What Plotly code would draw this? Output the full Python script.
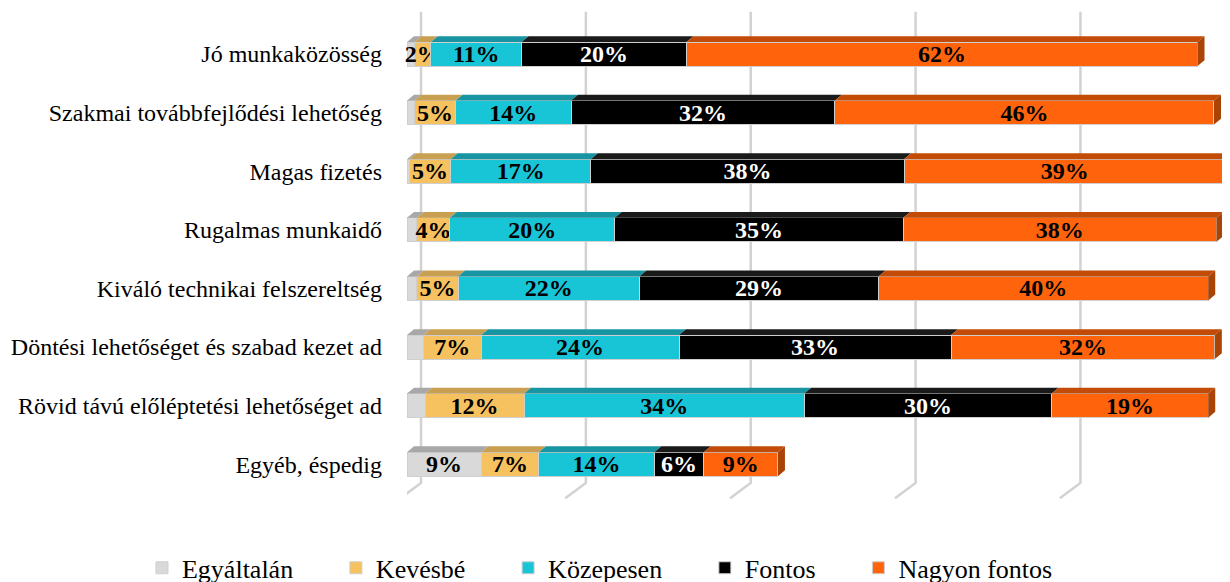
import numpy as np
import plotly.graph_objects as go

categories = [
    "Jó munkaközösség",
    "Szakmai továbbfejlődési lehetőség",
    "Magas fizetés",
    "Rugalmas munkaidő",
    "Kiváló technikai felszereltség",
    "Döntési lehetőséget és szabad kezet ad",
    "Rövid távú előléptetési lehetőséget ad",
    "Egyéb, éspedig",
]
series_names = ["Egyáltalán", "Kevésbé", "Közepesen", "Fontos", "Nagyon fontos"]
egyaltalan = [0.9, 0.9, 0.3, 1.2, 1.2, 2.0, 2.2, 9]
kevesbe = [2, 5, 5, 4, 5, 7, 12, 7]
kozepesen = [11, 14, 17, 20, 22, 24, 34, 14]
fontos = [20, 32, 38, 35, 29, 33, 30, 6]
nagyon_fontos = [62, 46, 39, 38, 40, 32, 19, 9]
tick_values = [0, 20, 40, 60, 80, 100]

series_values = [egyaltalan, kevesbe, kozepesen, fontos, nagyon_fontos]
front_colors = ["#D9D9D9", "#F6C25F", "#17C5D7", "#000000", "#FF640D"]
top_colors = ["#A8A8A8", "#C9A052", "#1795A3", "#1A1A1A", "#C24B08"]
text_colors = ["#000000", "#000000", "#000000", "#FFFFFF", "#000000"]
side_color = "#A94306"

FONT = "Liberation Serif"
BAR_W = 0.41      # front face thickness (y units)
TOP_H = 0.10      # depth of top face (y units)
DEPTH = 0.85      # x shift of top face (% units)
LEGEND_PAD = "\u00a0" * 5 + "\u2009"

y_pos = list(range(len(categories)))

fig = go.Figure()
for name, vals, fc, tc in zip(series_names, series_values, front_colors, text_colors):
    if name == "Egyáltalán":
        labels = [f"{round(v)}%" if v >= 5 else "" for v in vals]
    else:
        labels = [f"{round(v)}%" for v in vals]
    fig.add_trace(go.Bar(
        name=name + LEGEND_PAD, y=y_pos, x=vals, orientation="h", width=BAR_W,
        marker=dict(color=fc, line=dict(color="#CFCFCF", width=1)),
        text=labels, textposition="inside", insidetextanchor="middle",
        textangle=0, constraintext="none",
        textfont=dict(family=FONT, size=24, color=tc, weight="bold"),
        cliponaxis=False,
    ))

shapes = []
# gridlines (back wall + floor edge)
for t in tick_values:
    shapes.append(dict(
        type="path", xref="x", yref="y", layer="below",
        path=f"M {t+1.7},-0.72 L {t+1.7},7.32 L {t-0.8},7.58",
        line=dict(color="#D2D2D2", width=2.5),
    ))

# 3D top faces and right side face
cum = np.zeros(len(categories))
arr = np.array(series_values, dtype=float)
for s in range(arr.shape[0]):
    for i in range(len(categories)):
        v = arr[s, i]
        if v <= 0:
            continue
        x0, x1 = cum[i], cum[i] + v
        yb = i - BAR_W / 2
        yt = yb - TOP_H
        shapes.append(dict(
            type="path", xref="x", yref="y", layer="above",
            path=f"M {x0},{yb} L {x1},{yb} L {x1+DEPTH},{yt} L {x0+DEPTH},{yt} Z",
            fillcolor=top_colors[s], line=dict(width=0),
        ))
    cum = cum + arr[s]
totals = arr.sum(axis=0)
for i, tot in enumerate(totals):
    yb = i - BAR_W / 2
    ybot = i + BAR_W / 2
    shapes.append(dict(
        type="path", xref="x", yref="y", layer="above",
        path=f"M {tot},{yb} L {tot+DEPTH},{yb-TOP_H} L {tot+DEPTH},{ybot-TOP_H} L {tot},{ybot} Z",
        fillcolor=side_color, line=dict(width=0),
    ))

fig.update_layout(
    barmode="stack",
    width=1222, height=582,
    margin=dict(l=399, r=2, t=2, b=85, autoexpand=False),
    paper_bgcolor="white", plot_bgcolor="white",
    shapes=shapes,
    showlegend=True,
    legend=dict(
        orientation="h", x=-0.3228, xanchor="left", y=-0.127, yanchor="middle",
        font=dict(family=FONT, size=26, color="#000000"),
        traceorder="normal",
    ),
    xaxis=dict(range=[0, 99.6], showgrid=False, zeroline=False,
               showticklabels=False, showline=False),
    yaxis=dict(range=[7.696, -0.751], tickvals=y_pos, ticktext=categories,
               showgrid=False, zeroline=False, showline=False, ticks="",
               ticklabelstandoff=24,
               tickfont=dict(family=FONT, size=24, color="#000000")),
)

fig.write_html("out.html")
